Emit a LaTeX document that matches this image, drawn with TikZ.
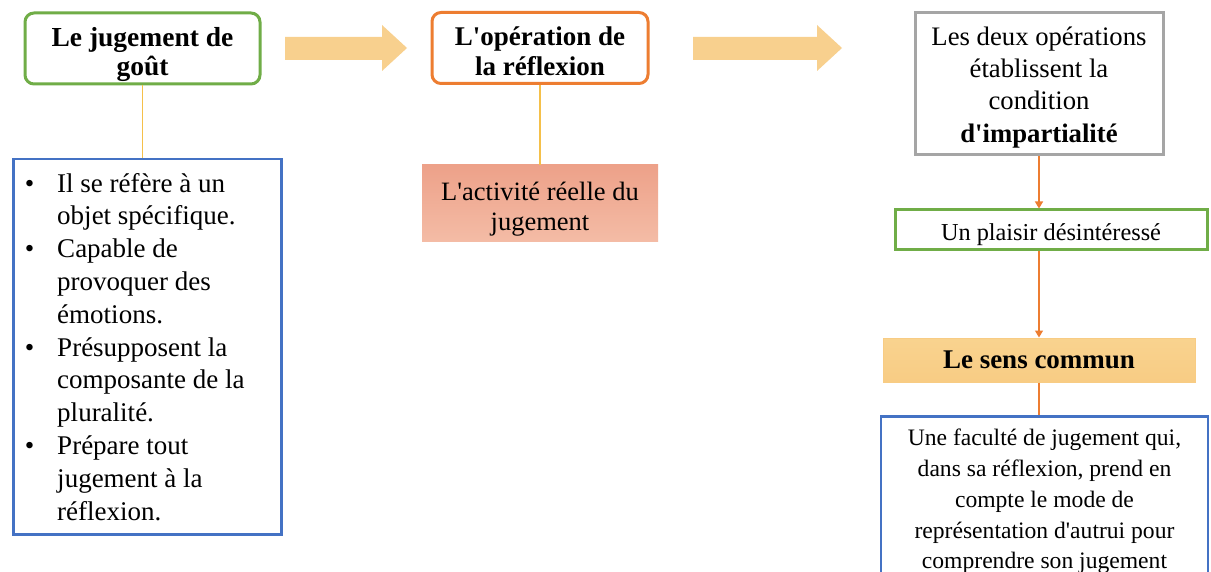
\documentclass[tikz,border=0pt]{standalone}
\usepackage{fontspec}
\usepackage{enumitem}
\newfontfamily\lsf{Liberation Serif}
\newcommand\setfs[2]{\lsf\fontsize{#1}{#2}\selectfont}
\newcommand\topstrut[1]{\rule{0pt}{#1pt}}
\usetikzlibrary{arrows.meta}
\definecolor{tgreen}{HTML}{70AD47}
\definecolor{torange}{HTML}{ED7D31}
\definecolor{tgray}{HTML}{A5A5A5}
\definecolor{tblue}{HTML}{4472C4}
\definecolor{tyellow}{HTML}{F5C04A}
\definecolor{arrowfill}{HTML}{F8D08E}
\definecolor{salmonA}{HTML}{EDA189}
\definecolor{salmonB}{HTML}{F4BCA6}
\definecolor{goldA}{HTML}{F9D38F}
\definecolor{goldB}{HTML}{F8CC84}
\begin{document}
\begin{tikzpicture}[x=1pt,y=-1pt,
  rbox/.style={draw, rounded corners=9pt, line width=3pt, fill=white,
    minimum height=71pt, align=center, inner sep=0pt},
  ylink/.style={draw=tyellow, line width=1.4pt},
  olink/.style={draw=torange, line width=1.4pt},
  otip/.style={-{Triangle[length=7pt,width=8pt]}},
  blockarrow/.style={fill=arrowfill}]
\useasboundingbox (0,0) rectangle (1211,572);
\clip (0,0) rectangle (1211,572);
\fill[white] (0,0) rectangle (1211,572);

% left column
\node[rbox, draw=tgreen, minimum width=235pt, font=\setfs{27.5}{28.5}\bfseries] (taste) at (142.5,48.5)
  {\topstrut{31}Le jugement de\\goût};
\node[draw=tblue, line width=2.5pt, anchor=north west, minimum width=268pt, minimum height=375pt,
  inner sep=0pt, font=\setfs{27}{32.8}] (list) at (12,158)
  {\begin{minipage}{262pt}\raggedright
   \begin{itemize}[nosep,leftmargin=41pt,labelsep=23pt,label=\textbullet]
   \item Il se réfère à un\newline objet spécifique.
   \item Capable de\newline provoquer des\newline émotions.
   \item Présupposent la\newline composante de la\newline pluralité.
   \item Prépare tout\newline jugement à la\newline réflexion.
   \end{itemize}\end{minipage}};
\draw[ylink] (taste.south) -- (taste.south |- list.north);

% middle column
\node[rbox, draw=torange, minimum width=216pt, font=\setfs{27}{30}\bfseries] (reflex) at (540,48)
  {\topstrut{25}L'opération de\\la réflexion};
\node[top color=salmonA, bottom color=salmonB, minimum width=236pt, minimum height=77pt,
  align=center, inner sep=0pt, font=\setfs{26.5}{30}] (real) at (540,203.5)
  {\topstrut{30}L'activité réelle du\\jugement};
\draw[ylink] (reflex.south) -- (reflex.south |- real.north);

% block arrows
\fill[blockarrow] (285,37) -- (382,37) -- (382,25) -- (407,48) -- (382,71) -- (382,60) -- (285,60) -- cycle;
\fill[blockarrow] (693,37) -- (817,37) -- (817,25) -- (842,48) -- (817,71) -- (817,60) -- (693,60) -- cycle;

% right column
\node[draw=tgray, line width=3pt, minimum width=248pt, minimum height=142pt, text width=240pt,
  align=flush center, inner sep=0pt, font=\setfs{26.7}{32.3}] (cond) at (1039,84)
  {\topstrut{25}Les deux opérations\\établissent la\\condition\\\textbf{d'impartialité}};
\node[draw=tgreen, line width=3pt, minimum width=312pt, minimum height=40pt, inner sep=0pt,
  font=\setfs{24.3}{29}] (pleasure) at (1051,230) {\topstrut{27}Un plaisir désintéressé};
\node[top color=goldA, bottom color=goldB, draw=goldB, line width=1pt, minimum width=312pt,
  minimum height=44pt, inner sep=0pt, font=\setfs{27}{30}\bfseries] (common) at (1039,360)
  {Le sens commun};
\node[draw=tblue, line width=2.5pt, anchor=north, minimum width=327pt, text width=320pt,
  align=flush center, inner xsep=3.5pt, inner ysep=13pt, font=\setfs{23.6}{30.75}] (faculty) at (1044.5,415)
  {Une faculté de jugement qui,\\dans sa réflexion, prend en\\compte le mode de\\représentation d'autrui pour\\comprendre son jugement};
\draw[olink, otip] (cond.south) -- (cond.south |- pleasure.north);
\draw[olink, otip] (cond.south |- pleasure.south) -- (common.north);
\draw[olink] (common.south) -- (common.south |- faculty.north);
\end{tikzpicture}
\end{document}
